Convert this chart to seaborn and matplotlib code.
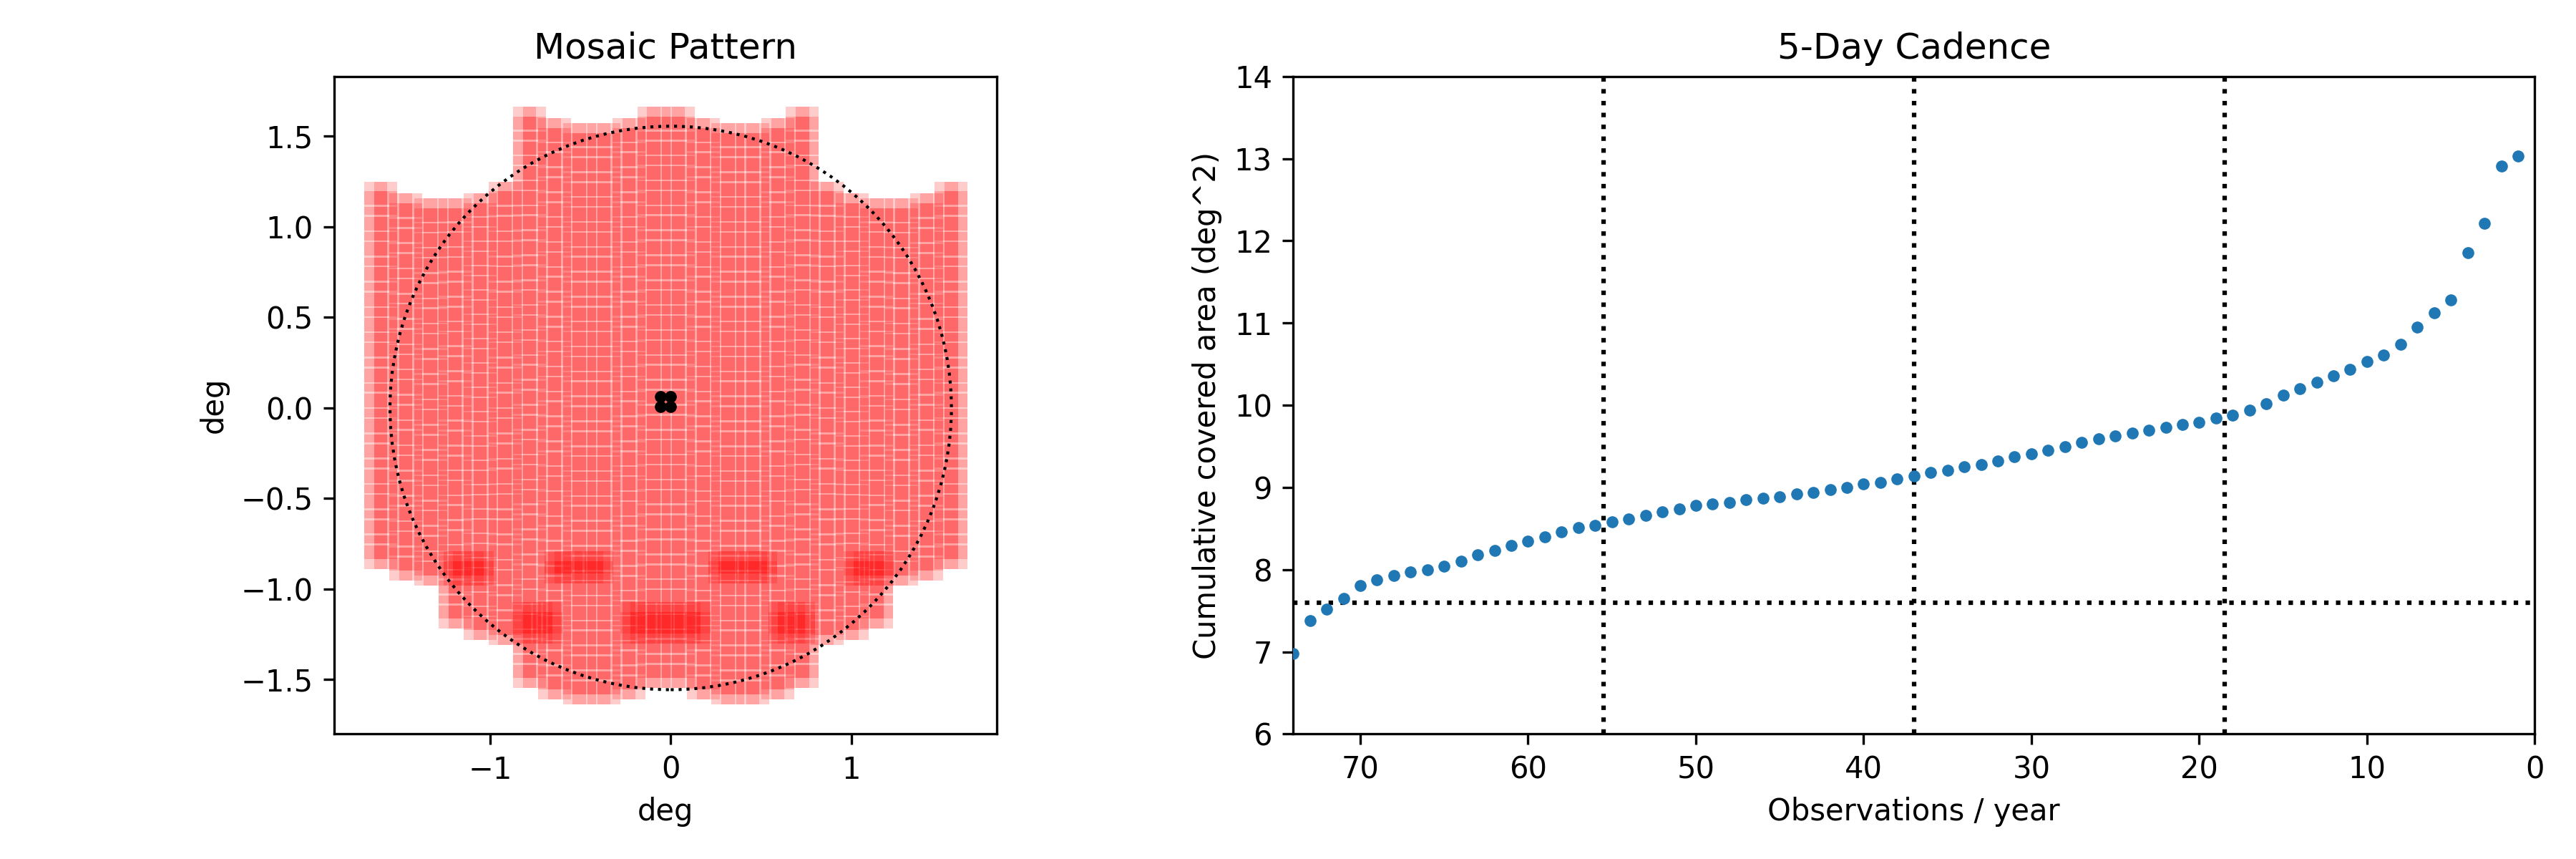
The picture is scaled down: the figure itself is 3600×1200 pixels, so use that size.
import numpy as np
import matplotlib
matplotlib.use("Agg")
import matplotlib.pyplot as plt
from matplotlib.patches import Rectangle, Circle
from matplotlib.collections import PatchCollection
import seaborn as sns

# ---- data ----
# cadence curve: observations per year vs cumulative covered area
obs_per_year = list(range(74, 0, -1))
covered_area = [6.98, 7.38, 7.52, 7.65, 7.81, 7.88, 7.93, 7.97, 8.00, 8.04,
                8.10, 8.18, 8.23, 8.29, 8.35, 8.40, 8.46, 8.51, 8.54, 8.58,
                8.62, 8.66, 8.70, 8.74, 8.78, 8.80, 8.82, 8.85, 8.87, 8.89,
                8.92, 8.94, 8.97, 9.00, 9.04, 9.06, 9.10, 9.14, 9.18, 9.21,
                9.25, 9.28, 9.32, 9.37, 9.41, 9.45, 9.50, 9.55, 9.59, 9.63,
                9.66, 9.70, 9.73, 9.77, 9.79, 9.84, 9.88, 9.94, 10.02, 10.12,
                10.20, 10.28, 10.36, 10.44, 10.53, 10.61, 10.74, 10.95, 11.12, 11.28,
                11.86, 12.21, 12.91, 13.03]
fov_area = 7.6                      # deg^2, dotted circle / horizontal line
quartile_marks = [55.5, 37, 18.5]   # obs / year

# dither pointings (black dots)
pointing_x = [-0.058, -0.003, -0.058, -0.003]
pointing_y = [0.063, 0.063, 0.008, 0.008]

# chip columns of the mosaic: outer top / bottom of every column (deg)
col_top = [1.25, 1.184, 1.158, 1.158, 1.184, 1.25, 1.664, 1.599, 1.572, 1.572, 1.599, 1.664,
           1.664, 1.599, 1.572, 1.572, 1.599, 1.664, 1.25, 1.184, 1.158, 1.158, 1.184, 1.25]
col_bottom = [-0.888, -0.954, -0.98, -1.217, -1.28, -1.307, -1.546, -1.609, -1.636, -1.636, -1.609, -1.546,
              -1.546, -1.609, -1.636, -1.636, -1.609, -1.546, -1.307, -1.28, -1.217, -0.98, -0.954, -0.888]

# regions covered twice (darker spots): x0, x1, y0, y1
overlap_x0 = [-1.26, -0.70, 0.21, 0.96, -0.88, -0.28, 0.54]
overlap_x1 = [-0.98, -0.32, 0.59, 1.24, -0.60, 0.22, 0.80]
overlap_y0 = [-0.98, -0.97, -0.97, -0.98, -1.30, -1.30, -1.30]
overlap_y1 = [-0.79, -0.79, -0.79, -0.79, -1.07, -1.07, -1.07]

PITCH = 0.1374
GAP = 0.010
CHIP = PITCH - GAP
X_START = -1.697

mx, my = np.mean(pointing_x), np.mean(pointing_y)
dithers = [(px - mx, py - my) for px, py in zip(pointing_x, pointing_y)]
half = abs(dithers[0][0])


def chips_in(x0, x1, y0, y1):
    """tile an outer (dither-union) box with chips; returns base chip rects"""
    bx0, bx1 = x0 + half, x1 - half
    by0, by1 = y0 + half, y1 - half
    nx = max(1, int(round((bx1 - bx0 + GAP) / PITCH)))
    ny = max(1, int(round((by1 - by0 + GAP) / PITCH)))
    wx = (bx1 - bx0 + GAP) / nx
    wy = (by1 - by0 + GAP) / ny
    out = []
    for i in range(nx):
        for j in range(ny):
            out.append((bx0 + i * wx, by0 + j * wy, wx - GAP, wy - GAP))
    return out


base_chips = []
for k in range(len(col_top)):
    left = X_START + k * PITCH
    base_chips += chips_in(left, left + CHIP + 2 * half, col_bottom[k], col_top[k])
for a, b, c, d in zip(overlap_x0, overlap_x1, overlap_y0, overlap_y1):
    base_chips += chips_in(a, b, c, d)

patches = []
for dx, dy in dithers:
    for x, y, w, h in base_chips:
        patches.append(Rectangle((x + dx, y + dy), w, h))

# ---- figure ----
fig = plt.figure(figsize=(12, 4), dpi=300)
ax1 = fig.add_axes([0.1297, 0.1455, 0.2572, 0.7655])
ax2 = fig.add_axes([0.502, 0.1455, 0.482, 0.7655])

pc = PatchCollection(patches, facecolor='red', edgecolor='none', alpha=0.2, linewidth=0)
ax1.add_collection(pc)
ax1.add_patch(Circle((0, 0), np.sqrt(fov_area / np.pi), fill=False, color='k', ls=':', lw=1, zorder=2))
sns.scatterplot(x=pointing_x, y=pointing_y, color='k', s=16, linewidth=0, ax=ax1, zorder=3)
ax1.set_xlim(-1.865, 1.806)
ax1.set_ylim(-1.80, 1.83)
ax1.set_xticks([-1, 0, 1])
ax1.set_yticks([-1.5, -1.0, -0.5, 0.0, 0.5, 1.0, 1.5])
ax1.set_xlabel('deg')
ax1.set_ylabel('deg')
ax1.set_title('Mosaic Pattern')

for q in quartile_marks:
    ax2.axvline(q, color='k', ls=':', lw=1.5)
ax2.axhline(fov_area, color='k', ls=':', lw=1.5)
sns.scatterplot(x=obs_per_year, y=covered_area, color='#1f77b4', s=16, linewidth=0, ax=ax2, zorder=3)
ax2.set_xlim(74, 0)
ax2.set_ylim(6, 14)
ax2.set_xlabel('Observations / year')
ax2.set_ylabel('Cumulative covered area (deg^2)')
ax2.set_title('5-Day Cadence')

fig.savefig('out.png', dpi=300)
